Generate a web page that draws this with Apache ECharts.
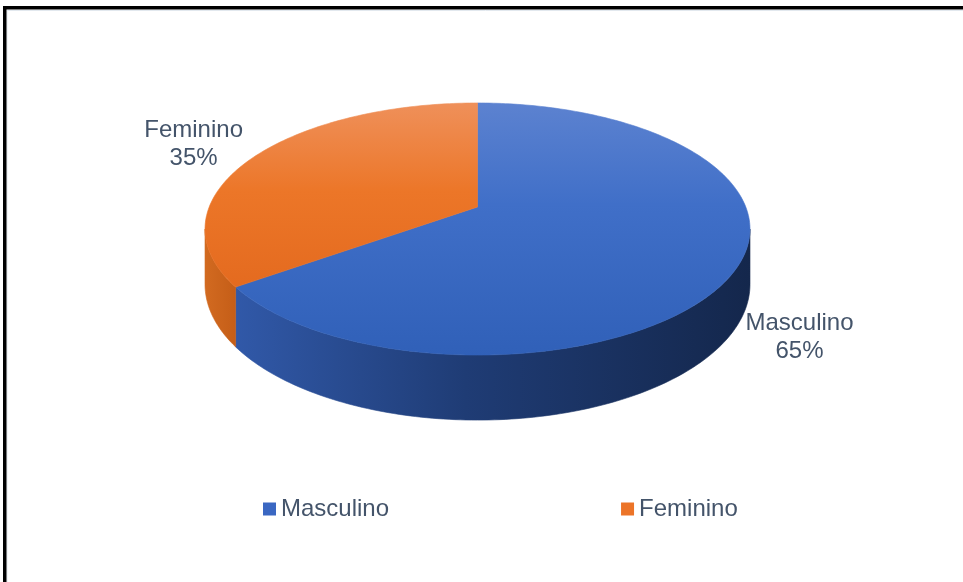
<!DOCTYPE html>
<html>
<head>
<meta charset="utf-8">
<script src="https://cdn.jsdelivr.net/npm/echarts@6/dist/echarts.min.js"></script>
<style>
  html, body { margin: 0; padding: 0; background: #ffffff; }
  #chart { width: 963px; height: 582px; }
</style>
</head>
<body>
<div id="chart"></div>
<script>
// Gender split drawn as a tilted 3D pie
const categories = ['Masculino', 'Feminino'];
const values = [65, 35];

const total = values.reduce((s, v) => s + v, 0);

// Projection of the disc: centre, horizontal/vertical radii, perspective factor, wall height
const PIE = { cx: 477.5, cy: 207, a: 268.3, b: 122.2, u: 0.1746, wall: 53.7 };
const FONT = '"Liberation Sans", Arial, sans-serif';
const TEXT_COLOR = '#44546a';

// theta measured clockwise from the back (12 o'clock) of the disc
function project(theta, depth) {
  const X = Math.sin(theta);
  const Z = -Math.cos(theta);
  const s = 1 / (1 - PIE.u * Z);
  return [PIE.cx + PIE.a * X * s, PIE.cy + PIE.b * Z * s + depth * PIE.wall * s];
}

function arcPoints(t1, t2, depth) {
  const pts = [];
  const n = Math.max(2, Math.ceil((t2 - t1) / (Math.PI / 180)));
  for (let i = 0; i <= n; i++) pts.push(project(t1 + (t2 - t1) * i / n, depth));
  return pts;
}

const topFills = [
  { type: 'linear', x: 0, y: 103, x2: 0, y2: 357, global: true,
    colorStops: [{ offset: 0, color: '#5c82d0' }, { offset: 0.4, color: '#406fc8' }, { offset: 1, color: '#3060b8' }] },
  { type: 'linear', x: 0, y: 103, x2: 0, y2: 300, global: true,
    colorStops: [{ offset: 0, color: '#ef905a' }, { offset: 0.45, color: '#ec7628' }, { offset: 1, color: '#e3691e' }] }
];
const sideFills = [
  { type: 'linear', x: 232, y: 0, x2: 750, y2: 0, global: true,
    colorStops: [{ offset: 0, color: '#3159a9' }, { offset: 0.45, color: '#1f3c75' }, { offset: 1, color: '#14274c' }] },
  { type: 'linear', x: 205, y: 0, x2: 235, y2: 0, global: true,
    colorStops: [{ offset: 0, color: '#d26a20' }, { offset: 1, color: '#c55e18' }] }
];

const visFrom = Math.acos(-PIE.u);
const visTo = 2 * Math.PI - visFrom;

function makeRender(idx) {
  return function (params, api) {
    const before = values.slice(0, idx).reduce((s, v) => s + v, 0);
    const t1 = before / total * 2 * Math.PI;
    const t2 = (before + api.value(0)) / total * 2 * Math.PI;
    const children = [];

    // front wall
    const s1 = Math.max(t1, visFrom), s2 = Math.min(t2, visTo);
    if (s2 > s1) {
      const pts = arcPoints(s1, s2, 0).concat(arcPoints(s1, s2, 1).reverse());
      children.push({ type: 'polygon', shape: { points: pts },
        style: { fill: sideFills[idx], stroke: sideFills[idx], lineWidth: 0.6 } });
    }
    // top face
    const topPts = [[PIE.cx, PIE.cy]].concat(arcPoints(t1, t2, 0));
    children.push({ type: 'polygon', shape: { points: topPts },
      style: { fill: topFills[idx], stroke: topFills[idx], lineWidth: 0.6 } });

    // label outside the slice
    const mid = (t1 + t2) / 2;
    const Zm = -Math.cos(mid);
    const rim = project(mid, Zm > 0 ? 1 : 0);
    const pct = Math.round(api.value(0) / total * 100);
    children.push({ type: 'text',
      style: { text: categories[idx] + '\n' + pct + '%',
        x: rim[0] + Math.sin(mid) * 70, y: rim[1] - Math.cos(mid) * 25,
        align: 'center', verticalAlign: 'middle',
        fontSize: 24, lineHeight: 28, fontFamily: FONT, fill: TEXT_COLOR } });
    return { type: 'group', children: children };
  };
}

const chart = echarts.init(document.getElementById('chart'), null, { renderer: 'canvas' });
chart.setOption({
  backgroundColor: '#ffffff',
  animation: false,
  color: ['#3a67c2', '#ec7428'],
  legend: {
    data: categories,
    left: 263, top: 497,
    itemWidth: 13, itemHeight: 13, itemGap: 232,
    icon: 'rect',
    padding: 0,
    textStyle: { fontSize: 24, lineHeight: 24, fontFamily: FONT, color: TEXT_COLOR }
  },
  graphic: [
    { type: 'rect', shape: { x: 7, y: 10.5, width: 1000, height: 600 },
      style: { fill: null, stroke: '#e2e8ee', lineWidth: 1 }, silent: true },
    { type: 'rect', shape: { x: 4.75, y: 7.75, width: 1000, height: 600 },
      style: { fill: null, stroke: '#000000', lineWidth: 3.5 }, silent: true }
  ],
  series: categories.map((name, i) => ({
    type: 'custom',
    name: name,
    coordinateSystem: 'none',
    renderItem: makeRender(i),
    data: [values[i]]
  }))
});
</script>
</body>
</html>
